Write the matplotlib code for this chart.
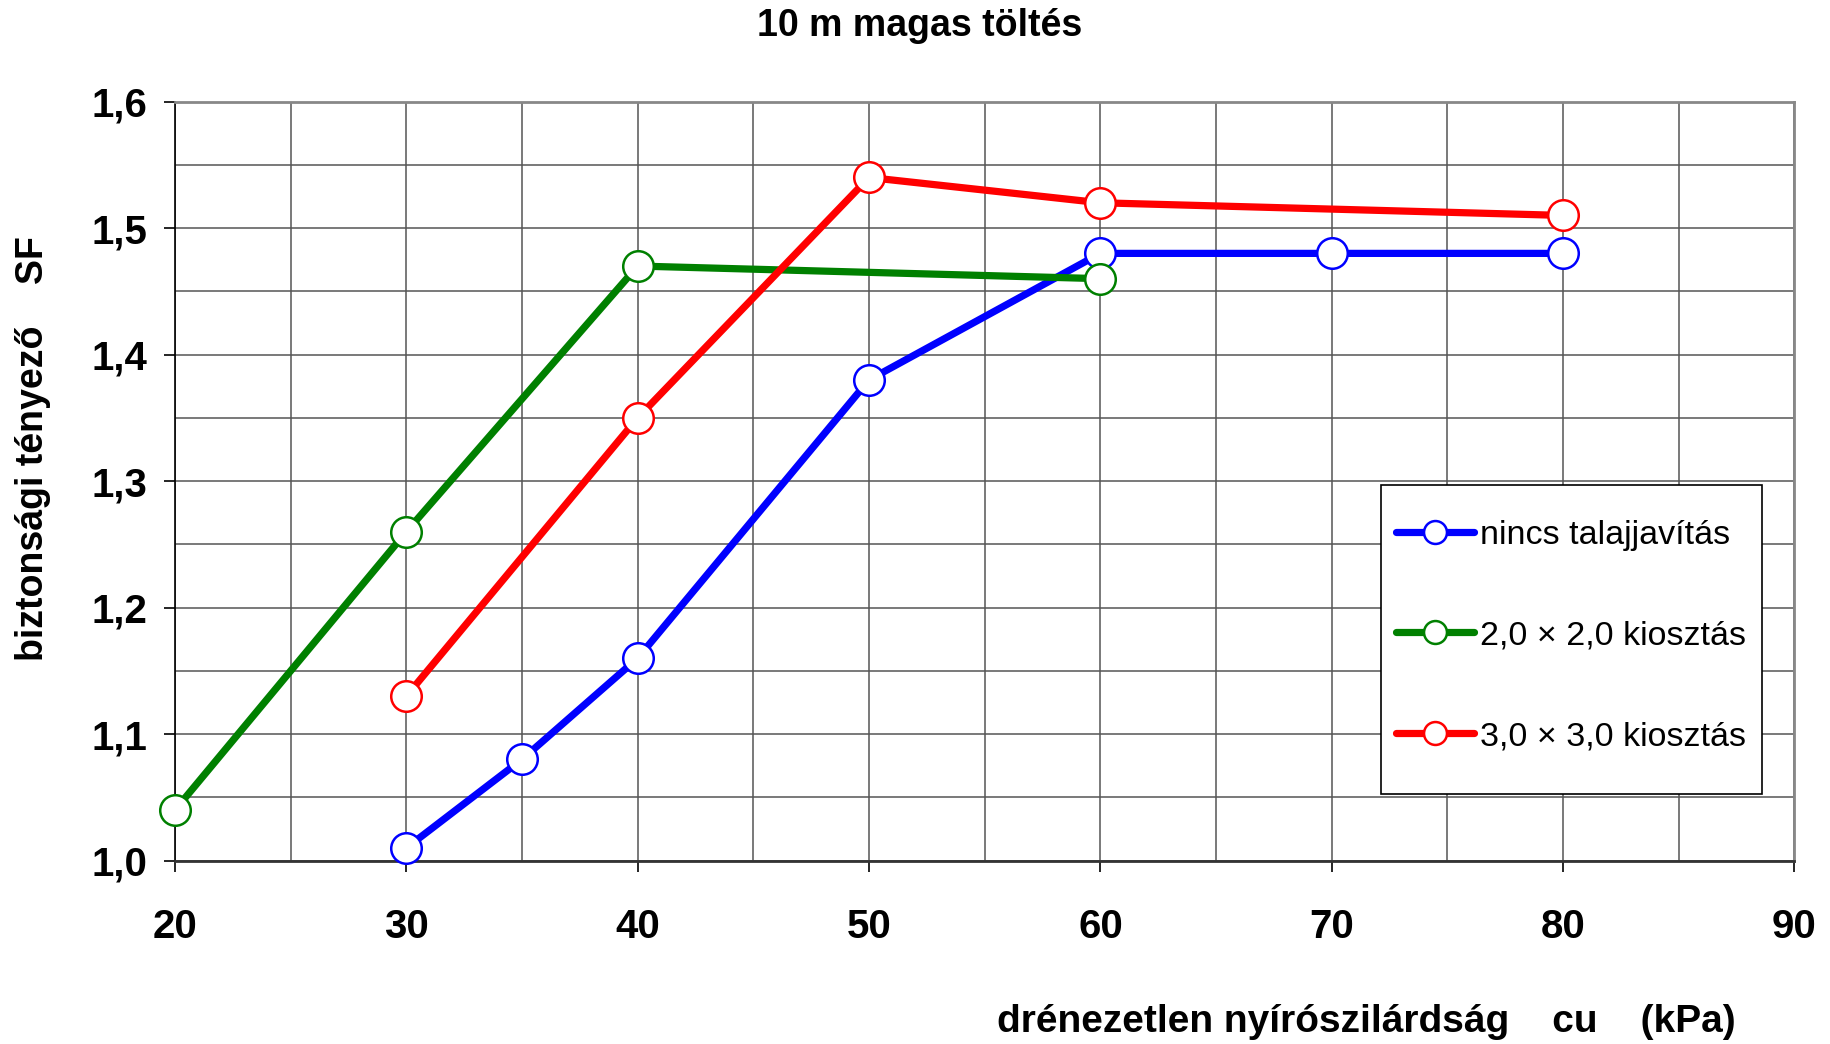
import matplotlib
matplotlib.use("Agg")
import matplotlib.pyplot as plt
from matplotlib.patches import Rectangle
from matplotlib.ticker import MultipleLocator, FuncFormatter

title = "10 m magas töltés"
xlabel = "drénezetlen nyírószilárdság    cu    (kPa)"
ylabel = "biztonsági tényező    SF"

x_none = [30, 35, 40, 50, 60, 70, 80]
y_none = [1.01, 1.08, 1.16, 1.38, 1.48, 1.48, 1.48]
x_22 = [20, 30, 40, 60]
y_22 = [1.04, 1.26, 1.47, 1.46]
x_33 = [30, 40, 50, 60, 80]
y_33 = [1.13, 1.35, 1.54, 1.52, 1.51]
labels = ["nincs talajjavítás", "2,0 × 2,0 kiosztás", "3,0 × 3,0 kiosztás"]
colors = ["#0000FF", "#008000", "#FF0000"]

plt.rcParams["font.family"] = ["Liberation Sans", "DejaVu Sans"]

fig = plt.figure(figsize=(18.31, 10.44), dpi=100)
ax = fig.add_axes([0.0956, 0.1757, 0.8844, 0.727])

series = [(x_none, y_none), (x_22, y_22), (x_33, y_33)]
for (xs, ys), lab, c in zip(series, labels, colors):
    ax.plot(xs, ys, color=c, lw=5.2, marker="o", ms=22, mfc="white",
            mec=c, mew=1.8, label=lab, solid_capstyle="round", zorder=3,
            clip_on=False)

ax.set_xlim(20, 90)
ax.set_ylim(1.0, 1.6)
ax.xaxis.set_major_locator(MultipleLocator(10))
ax.xaxis.set_minor_locator(MultipleLocator(5))
ax.yaxis.set_major_locator(MultipleLocator(0.1))
ax.yaxis.set_minor_locator(MultipleLocator(0.05))
ax.yaxis.set_major_formatter(FuncFormatter(lambda v, p: f"{v:.1f}".replace(".", ",")))
ax.grid(which="both", color="#555555", lw=1.1, zorder=0)
ax.tick_params(which="major", direction="out", length=8, width=1.2, color="black")
ax.tick_params(which="minor", length=0)
ax.tick_params(axis="x", pad=26)
ax.tick_params(axis="y", pad=12)
for lab in ax.get_xticklabels() + ax.get_yticklabels():
    lab.set_fontweight("bold")
    lab.set_fontsize(29)
for s in ["top", "right"]:
    ax.spines[s].set_color("#888888")
    ax.spines[s].set_linewidth(2)
ax.spines["bottom"].set_color("#333333")
ax.spines["bottom"].set_linewidth(2)
ax.spines["left"].set_color("black")
ax.spines["left"].set_linewidth(1.2)

fig.text(0.5025, 0.975, title, ha="center", va="center", fontsize=27, fontweight="bold")
fig.text(0.948, 0.021, xlabel, ha="right", va="center", fontsize=28, fontweight="bold")
fig.text(0.018, 0.570, ylabel, ha="center", va="center", rotation=90, fontsize=27, fontweight="bold")

# legend frame (box) drawn in figure coordinates
bx0, bx1 = 1381 / 1831, 1762 / 1831
by1, by0 = 1 - 485 / 1044, 1 - 794 / 1044
box = Rectangle((bx0, by0), bx1 - bx0, by1 - by0, transform=fig.transFigure,
                facecolor="white", edgecolor="black", lw=1.2, zorder=4)
ax.add_patch(box)
box.set_clip_on(False)

leg = ax.legend(loc="center left", bbox_to_anchor=(0.7625, 0.391), bbox_transform=fig.transFigure,
                fontsize=24.5, frameon=False,
                handlelength=2.3, handletextpad=0.15, labelspacing=2.05,
                borderpad=0, borderaxespad=0, markerscale=0.75)
leg.set_zorder(5)

fig.savefig("out.png", dpi=100, facecolor="white")
